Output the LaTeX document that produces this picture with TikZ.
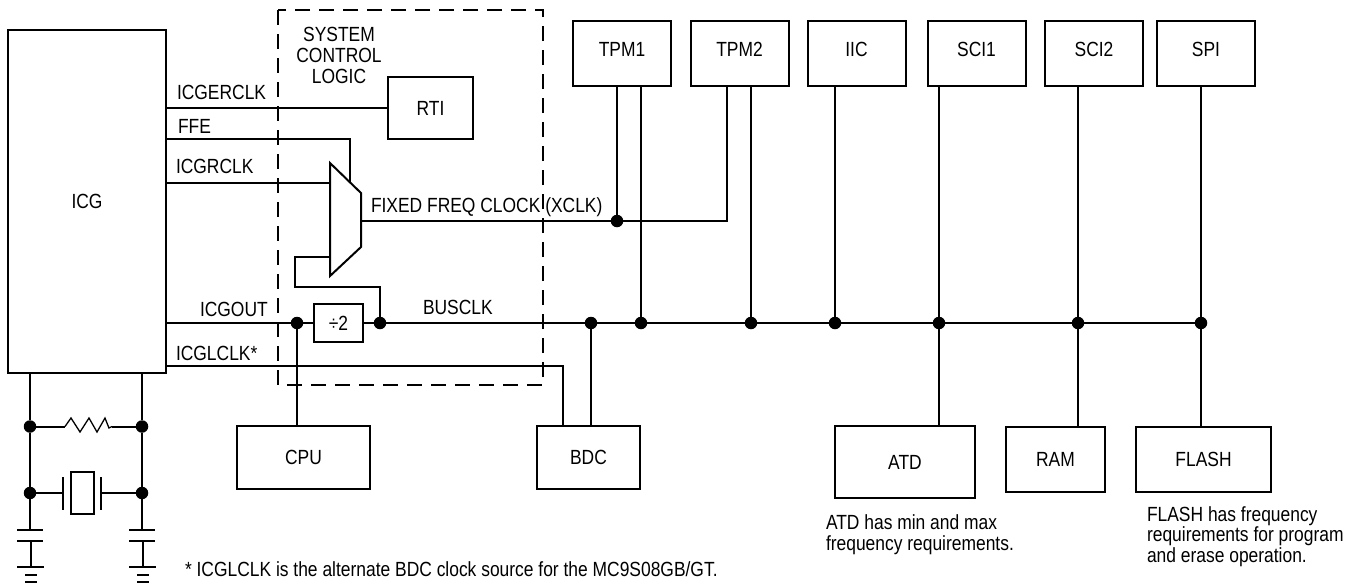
\documentclass[tikz,border=0pt]{standalone}
\usepackage{fontspec}
\setmainfont[FakeStretch=0.85]{Liberation Sans}
\usetikzlibrary{positioning}
\begin{document}
\begin{tikzpicture}[x=1pt, y=-1pt, line width=2pt,
		blockbox/.style={draw, rectangle, inner sep=0pt, outer sep=0pt, fill=white},
		topbox/.style={blockbox, minimum width=98, minimum height=65, text depth=8pt},
		dotnode/.style={circle, fill=black, inner sep=0pt, outer sep=0pt, minimum size=12.5},
		textlabel/.style={inner sep=0pt, outer sep=0pt, anchor=base west},
		font=\fontsize{20.5}{21}\selectfont]
	\useasboundingbox (0,0) rectangle (1357,584);
	% System control logic frame
	\draw[dash pattern=on 15pt off 9pt] (278,10) rectangle (543,385);
	\node[inner sep=0pt, align=center] (sysLabel) at (339,55) {SYSTEM\\CONTROL\\LOGIC};
	% ICG and small blocks
	\node[blockbox, minimum width=158, minimum height=343] (icg) at (87,201.5) {ICG};
	\node[blockbox, minimum width=85, minimum height=62] (rti) at (430.5,108) {RTI};
	\node[blockbox, minimum width=49, minimum height=38] (div) at (338.5,323) {÷2};
	% Peripherals on top
	\foreach \name/\x/\txt in {tpma/622/TPM1, tpmb/739.5/TPM2, iic/856.5/IIC, scia/976.5/SCI1, scib/1094/SCI2, spi/1206/SPI}
		\node[topbox] (\name) at (\x,53.5) {\txt};
	% Lower blocks
	\node[blockbox, minimum width=133, minimum height=63] (cpu) at (303.5,457.5) {CPU};
	\node[blockbox, minimum width=103, minimum height=63] (bdc) at (588.5,457.5) {BDC};
	\node[blockbox, minimum width=140, minimum height=72] (atd) at (905,462) {ATD};
	\node[blockbox, minimum width=99, minimum height=65] (ram) at (1055.5,459.5) {RAM};
	\node[blockbox, minimum width=135, minimum height=65] (flash) at (1203.5,459.5) {FLASH};
	% Junctions
	\node[dotnode] (jCpu) at (297,323) {};
	\node[dotnode] (jDiv) at (380,323) {};
	\node[dotnode] (jBdc) at (591,323) {};
	\node[dotnode] (jTpma) at (641,323) {};
	\node[dotnode] (jTpmb) at (751,323) {};
	\node[dotnode] (jIic) at (835,323) {};
	\node[dotnode] (jScia) at (939,323) {};
	\node[dotnode] (jScib) at (1078,323) {};
	\node[dotnode] (jSpi) at (1201,323) {};
	\node[dotnode] (jXclk) at (617,221) {};
	\coordinate (xclkEnd) at (727,221);
	\coordinate (fbA) at (295,257);
	\coordinate (fbB) at (295,287);
	\coordinate (bdcDrop) at (563,366);
	% Mux
	\coordinate (muxA) at (330,183);
	\coordinate (muxB) at (330,257);
	\coordinate (muxSel) at (350,182);
	\coordinate (muxOut) at (361,221);
	% Clock lines
	\draw (icg.east |- rti) -- (rti);
	\draw (icg.east |- 0,139) -| (muxSel);
	\draw (icg.east |- muxA) -- (muxA);
	\draw (icg.east |- jCpu) -- (jCpu) -- (div);
	\draw (div) -- (jDiv) -- (jBdc) -- (jTpma) -- (jTpmb) -- (jIic) -- (jScia) -- (jScib) -- (jSpi);
	\draw (icg.east |- bdcDrop) -- (bdcDrop) -- (bdcDrop |- bdc.north);
	\draw (muxB) -- (fbA) -- (fbB) -| (jDiv);
	\draw (muxOut) -- (jXclk) -- (xclkEnd) -- (xclkEnd |- tpmb.south);
	\draw (jXclk) -- (jXclk |- tpma.south);
	\draw (jCpu) -- (jCpu |- cpu.north);
	\draw (jBdc) -- (jBdc |- bdc.north);
	\draw (jTpma) -- (jTpma |- tpma.south);
	\draw (jTpmb) -- (jTpmb |- tpmb.south);
	\draw (jIic) -- (jIic |- iic.south);
	\draw (jScia |- scia.south) -- (jScia |- atd.north);
	\draw (jScib |- scib.south) -- (jScib |- ram.north);
	\draw (jSpi |- spi.south) -- (jSpi |- flash.north);
	\draw[fill=white] (330,163) -- (361,193) -- (361,247) -- (330,276) -- cycle;
	% External oscillator
	\node[dotnode] (jResL) at (30,426.5) {};
	\node[dotnode] (jResR) at (142,426.5) {};
	\node[dotnode] (jXtalL) at (30,493) {};
	\node[dotnode] (jXtalR) at (142,493) {};
	\coordinate (capL) at (30,530);
	\coordinate (capR) at (142,530);
	\coordinate (resA) at (65,426.5);
	\coordinate (resB) at (112,426.5);
	\coordinate (plateL) at (63,493);
	\coordinate (plateR) at (101,493);
	\draw (jResL |- icg.south) -- (jResL) -- (jXtalL) -- (capL);
	\draw (jResR |- icg.south) -- (jResR) -- (jXtalR) -- (capR);
	\draw (jResL) -- (resA);
	\draw (resB) -- (jResR);
	\draw[line width=1.3pt] (resA) -- (71,418) -- (80,432) -- (89,418) -- (97,432) -- (105,418) -- (109,428) -- (resB);
	\draw (jXtalL) -- (plateL);
	\draw (plateR) -- (jXtalR);
	\draw (plateL |- 0,477) -- (plateL |- 0,510);
	\draw (plateR |- 0,477) -- (plateR |- 0,510);
	\node[blockbox, minimum width=23, minimum height=42] (xtal) at (82.5,493) {};
	% Capacitors and grounds
	\foreach \x in {30,142} {
		\draw (\x-13,530) -- (\x+13,530);
		\draw (\x-13,541) -- (\x+13,541);
		\draw (\x+1,541) -- (\x+1,567);
		\draw (\x-13,567) -- (\x+14,567);
		\draw (\x-5,575) -- (\x+7,575);
		\draw (\x-5,582) -- (\x+7,582);
	}
	% Labels
	\node[textlabel] (lblErclk) at (177,99) {ICGERCLK};
	\node[textlabel] (lblFfe) at (178,133) {FFE};
	\node[textlabel] (lblRclk) at (176,173) {ICGRCLK};
	\node[textlabel] (lblOut) at (200,316) {ICGOUT};
	\node[textlabel] (lblLclk) at (176,360) {ICGLCLK*};
	\node[textlabel] (lblBus) at (423,314) {BUSCLK};
	\node[textlabel] (lblXclk) at (371,212) {FIXED FREQ CLOCK (XCLK)};
	\node[textlabel] (noteAtdA) at (826,529) {ATD has min and max};
	\node[textlabel] (noteAtdB) at (826,550) {frequency requirements.};
	\node[textlabel] (noteFlashA) at (1147,521) {FLASH has frequency};
	\node[textlabel] (noteFlashB) at (1147,541) {requirements for program};
	\node[textlabel] (noteFlashC) at (1147,562) {and erase operation.};
	\node[textlabel] (noteLclk) at (185,576) {* ICGLCLK is the alternate BDC clock source for the MC9S08GB/GT.};
\end{tikzpicture}
\end{document}
